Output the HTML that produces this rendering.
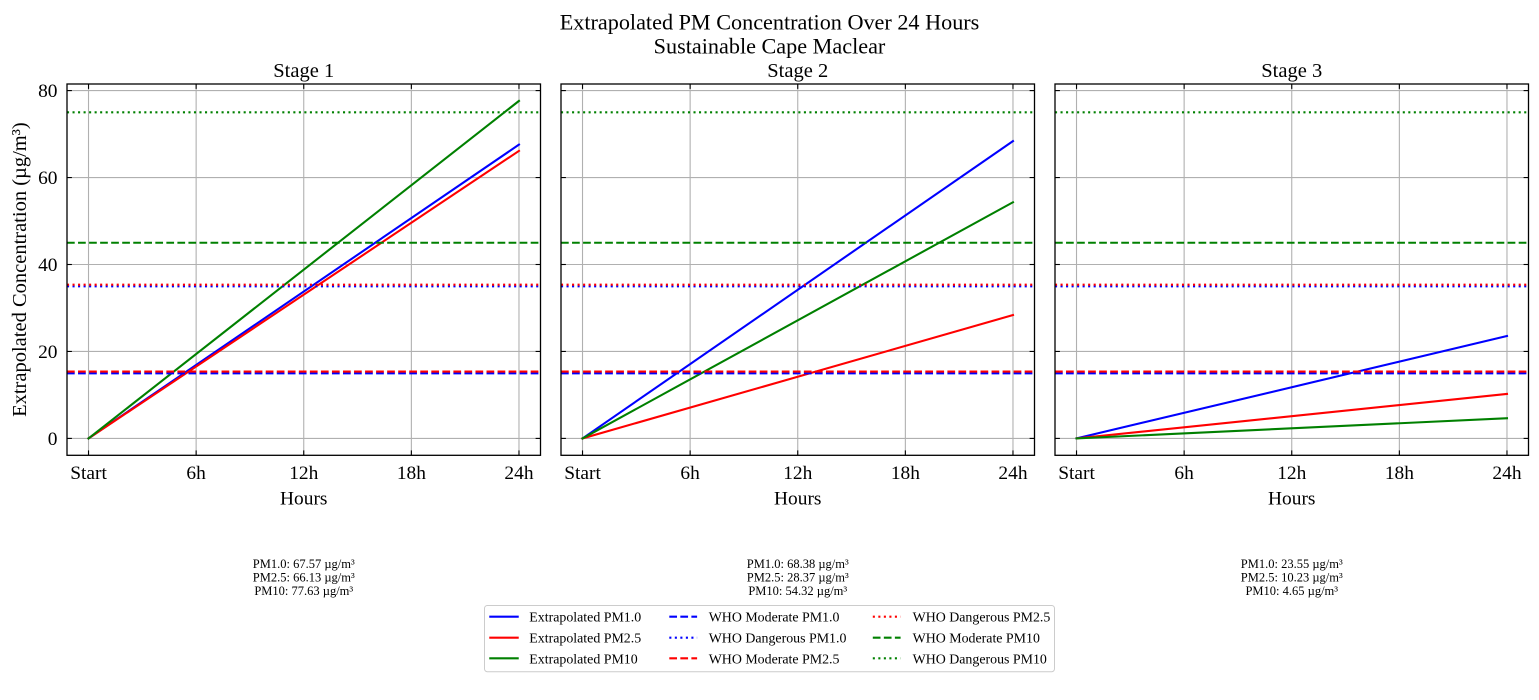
<!DOCTYPE html>
<html><head><meta charset="utf-8">
<style>
html,body{margin:0;padding:0;background:#fff;}
svg{display:block;}
text{font-family:"Liberation Serif","Times New Roman",serif;fill:#000;}
</style></head><body>
<svg width="1539" height="700" viewBox="0 0 1539 700" xmlns="http://www.w3.org/2000/svg">
<rect width="1539" height="700" fill="#fff"/>
<defs>
<clipPath id="c1"><rect x="67" y="84" width="473.5" height="371.3"/></clipPath>
<clipPath id="c2"><rect x="561" y="84" width="473.5" height="371.3"/></clipPath>
<clipPath id="c3"><rect x="1055" y="84" width="473.5" height="371.3"/></clipPath>
</defs>

<!-- Suptitle -->
<text x="769.5" y="29.7" font-size="22.2" text-anchor="middle">Extrapolated PM Concentration Over 24 Hours</text>
<text x="769.5" y="53.3" font-size="22.2" text-anchor="middle">Sustainable Cape Maclear</text>

<!-- ================= AXES 1 ================= -->
<g stroke="#b0b0b0" stroke-width="1.1" fill="none">
<line x1="88.52" y1="84" x2="88.52" y2="455.3"/>
<line x1="196.13" y1="84" x2="196.13" y2="455.3"/>
<line x1="303.75" y1="84" x2="303.75" y2="455.3"/>
<line x1="411.36" y1="84" x2="411.36" y2="455.3"/>
<line x1="518.98" y1="84" x2="518.98" y2="455.3"/>
<line x1="67" y1="438.42" x2="540.5" y2="438.42"/>
<line x1="67" y1="351.46" x2="540.5" y2="351.46"/>
<line x1="67" y1="264.5" x2="540.5" y2="264.5"/>
<line x1="67" y1="177.54" x2="540.5" y2="177.54"/>
<line x1="67" y1="90.58" x2="540.5" y2="90.58"/>
</g>
<g clip-path="url(#c1)" stroke-width="2.08" fill="none">
<line x1="88.52" y1="438.42" x2="518.98" y2="144.63" stroke="#0000ff" stroke-linecap="square"/>
<line x1="88.52" y1="438.42" x2="518.98" y2="150.89" stroke="#ff0000" stroke-linecap="square"/>
<line x1="88.52" y1="438.42" x2="518.98" y2="100.89" stroke="#008000" stroke-linecap="square"/>
<line x1="67" y1="373.3" x2="540.5" y2="373.3" stroke="#0000ff" stroke-dasharray="7.71 3.33"/>
<line x1="67" y1="286.3" x2="540.5" y2="286.3" stroke="#0000ff" stroke-dasharray="2.08 3.44"/>
<line x1="67" y1="371.6" x2="540.5" y2="371.6" stroke="#ff0000" stroke-dasharray="7.71 3.33"/>
<line x1="67" y1="284.7" x2="540.5" y2="284.7" stroke="#ff0000" stroke-dasharray="2.08 3.44"/>
<line x1="67" y1="242.76" x2="540.5" y2="242.76" stroke="#008000" stroke-dasharray="7.71 3.33"/>
<line x1="67" y1="112.32" x2="540.5" y2="112.32" stroke="#008000" stroke-dasharray="2.08 3.44"/>
</g>
<g stroke="#000" stroke-width="1.1">
<line x1="88.52" y1="455.3" x2="88.52" y2="450.4"/><line x1="196.13" y1="455.3" x2="196.13" y2="450.4"/><line x1="303.75" y1="455.3" x2="303.75" y2="450.4"/><line x1="411.36" y1="455.3" x2="411.36" y2="450.4"/><line x1="518.98" y1="455.3" x2="518.98" y2="450.4"/>
<line x1="88.52" y1="84" x2="88.52" y2="88.9"/><line x1="196.13" y1="84" x2="196.13" y2="88.9"/><line x1="303.75" y1="84" x2="303.75" y2="88.9"/><line x1="411.36" y1="84" x2="411.36" y2="88.9"/><line x1="518.98" y1="84" x2="518.98" y2="88.9"/>
<line x1="67" y1="438.42" x2="71.9" y2="438.42"/><line x1="67" y1="351.46" x2="71.9" y2="351.46"/><line x1="67" y1="264.5" x2="71.9" y2="264.5"/><line x1="67" y1="177.54" x2="71.9" y2="177.54"/><line x1="67" y1="90.58" x2="71.9" y2="90.58"/>
<line x1="540.5" y1="438.42" x2="535.6" y2="438.42"/><line x1="540.5" y1="351.46" x2="535.6" y2="351.46"/><line x1="540.5" y1="264.5" x2="535.6" y2="264.5"/><line x1="540.5" y1="177.54" x2="535.6" y2="177.54"/><line x1="540.5" y1="90.58" x2="535.6" y2="90.58"/>
</g>
<rect x="67" y="84" width="473.5" height="371.3" fill="none" stroke="#000" stroke-width="1.3"/>
<text x="303.75" y="77.2" font-size="20.5" text-anchor="middle">Stage 1</text>
<g font-size="19.4" text-anchor="end">
<text x="57.5" y="445">0</text>
<text x="57.5" y="358.1">20</text>
<text x="57.5" y="271.1">40</text>
<text x="57.5" y="184.1">60</text>
<text x="57.5" y="97.2">80</text>
</g>
<g font-size="19.4" text-anchor="middle">
<text x="88.52" y="479">Start</text>
<text x="196.13" y="479">6h</text>
<text x="303.75" y="479">12h</text>
<text x="411.36" y="479">18h</text>
<text x="518.98" y="479">24h</text>
<text x="303.75" y="504.5">Hours</text>
</g>
<text transform="translate(26,269.6) rotate(-90)" font-size="20.5" text-anchor="middle">Extrapolated Concentration (µg/m³)</text>

<!-- ================= AXES 2 ================= -->
<g stroke="#b0b0b0" stroke-width="1.1" fill="none">
<line x1="582.52" y1="84" x2="582.52" y2="455.3"/>
<line x1="690.13" y1="84" x2="690.13" y2="455.3"/>
<line x1="797.75" y1="84" x2="797.75" y2="455.3"/>
<line x1="905.36" y1="84" x2="905.36" y2="455.3"/>
<line x1="1012.98" y1="84" x2="1012.98" y2="455.3"/>
<line x1="561" y1="438.42" x2="1034.5" y2="438.42"/>
<line x1="561" y1="351.46" x2="1034.5" y2="351.46"/>
<line x1="561" y1="264.5" x2="1034.5" y2="264.5"/>
<line x1="561" y1="177.54" x2="1034.5" y2="177.54"/>
<line x1="561" y1="90.58" x2="1034.5" y2="90.58"/>
</g>
<g clip-path="url(#c2)" stroke-width="2.08" fill="none">
<line x1="582.52" y1="438.42" x2="1012.98" y2="141.10" stroke="#0000ff" stroke-linecap="square"/>
<line x1="582.52" y1="438.42" x2="1012.98" y2="315.07" stroke="#ff0000" stroke-linecap="square"/>
<line x1="582.52" y1="438.42" x2="1012.98" y2="202.24" stroke="#008000" stroke-linecap="square"/>
<line x1="561" y1="373.3" x2="1034.5" y2="373.3" stroke="#0000ff" stroke-dasharray="7.71 3.33"/>
<line x1="561" y1="286.3" x2="1034.5" y2="286.3" stroke="#0000ff" stroke-dasharray="2.08 3.44"/>
<line x1="561" y1="371.6" x2="1034.5" y2="371.6" stroke="#ff0000" stroke-dasharray="7.71 3.33"/>
<line x1="561" y1="284.7" x2="1034.5" y2="284.7" stroke="#ff0000" stroke-dasharray="2.08 3.44"/>
<line x1="561" y1="242.76" x2="1034.5" y2="242.76" stroke="#008000" stroke-dasharray="7.71 3.33"/>
<line x1="561" y1="112.32" x2="1034.5" y2="112.32" stroke="#008000" stroke-dasharray="2.08 3.44"/>
</g>
<g stroke="#000" stroke-width="1.1">
<line x1="582.52" y1="455.3" x2="582.52" y2="450.4"/><line x1="690.13" y1="455.3" x2="690.13" y2="450.4"/><line x1="797.75" y1="455.3" x2="797.75" y2="450.4"/><line x1="905.36" y1="455.3" x2="905.36" y2="450.4"/><line x1="1012.98" y1="455.3" x2="1012.98" y2="450.4"/>
<line x1="582.52" y1="84" x2="582.52" y2="88.9"/><line x1="690.13" y1="84" x2="690.13" y2="88.9"/><line x1="797.75" y1="84" x2="797.75" y2="88.9"/><line x1="905.36" y1="84" x2="905.36" y2="88.9"/><line x1="1012.98" y1="84" x2="1012.98" y2="88.9"/>
<line x1="561" y1="438.42" x2="565.9" y2="438.42"/><line x1="561" y1="351.46" x2="565.9" y2="351.46"/><line x1="561" y1="264.5" x2="565.9" y2="264.5"/><line x1="561" y1="177.54" x2="565.9" y2="177.54"/><line x1="561" y1="90.58" x2="565.9" y2="90.58"/>
<line x1="1034.5" y1="438.42" x2="1029.6" y2="438.42"/><line x1="1034.5" y1="351.46" x2="1029.6" y2="351.46"/><line x1="1034.5" y1="264.5" x2="1029.6" y2="264.5"/><line x1="1034.5" y1="177.54" x2="1029.6" y2="177.54"/><line x1="1034.5" y1="90.58" x2="1029.6" y2="90.58"/>
</g>
<rect x="561" y="84" width="473.5" height="371.3" fill="none" stroke="#000" stroke-width="1.3"/>
<text x="797.75" y="77.2" font-size="20.5" text-anchor="middle">Stage 2</text>
<g font-size="19.4" text-anchor="middle">
<text x="582.52" y="479">Start</text>
<text x="690.13" y="479">6h</text>
<text x="797.75" y="479">12h</text>
<text x="905.36" y="479">18h</text>
<text x="1012.98" y="479">24h</text>
<text x="797.75" y="504.5">Hours</text>
</g>

<!-- ================= AXES 3 ================= -->
<g stroke="#b0b0b0" stroke-width="1.1" fill="none">
<line x1="1076.52" y1="84" x2="1076.52" y2="455.3"/>
<line x1="1184.13" y1="84" x2="1184.13" y2="455.3"/>
<line x1="1291.75" y1="84" x2="1291.75" y2="455.3"/>
<line x1="1399.36" y1="84" x2="1399.36" y2="455.3"/>
<line x1="1506.98" y1="84" x2="1506.98" y2="455.3"/>
<line x1="1055" y1="438.42" x2="1528.5" y2="438.42"/>
<line x1="1055" y1="351.46" x2="1528.5" y2="351.46"/>
<line x1="1055" y1="264.5" x2="1528.5" y2="264.5"/>
<line x1="1055" y1="177.54" x2="1528.5" y2="177.54"/>
<line x1="1055" y1="90.58" x2="1528.5" y2="90.58"/>
</g>
<g clip-path="url(#c3)" stroke-width="2.08" fill="none">
<line x1="1076.52" y1="438.42" x2="1506.98" y2="336.02" stroke="#0000ff" stroke-linecap="square"/>
<line x1="1076.52" y1="438.42" x2="1506.98" y2="393.94" stroke="#ff0000" stroke-linecap="square"/>
<line x1="1076.52" y1="438.42" x2="1506.98" y2="418.20" stroke="#008000" stroke-linecap="square"/>
<line x1="1055" y1="373.3" x2="1528.5" y2="373.3" stroke="#0000ff" stroke-dasharray="7.71 3.33"/>
<line x1="1055" y1="286.3" x2="1528.5" y2="286.3" stroke="#0000ff" stroke-dasharray="2.08 3.44"/>
<line x1="1055" y1="371.6" x2="1528.5" y2="371.6" stroke="#ff0000" stroke-dasharray="7.71 3.33"/>
<line x1="1055" y1="284.7" x2="1528.5" y2="284.7" stroke="#ff0000" stroke-dasharray="2.08 3.44"/>
<line x1="1055" y1="242.76" x2="1528.5" y2="242.76" stroke="#008000" stroke-dasharray="7.71 3.33"/>
<line x1="1055" y1="112.32" x2="1528.5" y2="112.32" stroke="#008000" stroke-dasharray="2.08 3.44"/>
</g>
<g stroke="#000" stroke-width="1.1">
<line x1="1076.52" y1="455.3" x2="1076.52" y2="450.4"/><line x1="1184.13" y1="455.3" x2="1184.13" y2="450.4"/><line x1="1291.75" y1="455.3" x2="1291.75" y2="450.4"/><line x1="1399.36" y1="455.3" x2="1399.36" y2="450.4"/><line x1="1506.98" y1="455.3" x2="1506.98" y2="450.4"/>
<line x1="1076.52" y1="84" x2="1076.52" y2="88.9"/><line x1="1184.13" y1="84" x2="1184.13" y2="88.9"/><line x1="1291.75" y1="84" x2="1291.75" y2="88.9"/><line x1="1399.36" y1="84" x2="1399.36" y2="88.9"/><line x1="1506.98" y1="84" x2="1506.98" y2="88.9"/>
<line x1="1055" y1="438.42" x2="1059.9" y2="438.42"/><line x1="1055" y1="351.46" x2="1059.9" y2="351.46"/><line x1="1055" y1="264.5" x2="1059.9" y2="264.5"/><line x1="1055" y1="177.54" x2="1059.9" y2="177.54"/><line x1="1055" y1="90.58" x2="1059.9" y2="90.58"/>
<line x1="1528.5" y1="438.42" x2="1523.6" y2="438.42"/><line x1="1528.5" y1="351.46" x2="1523.6" y2="351.46"/><line x1="1528.5" y1="264.5" x2="1523.6" y2="264.5"/><line x1="1528.5" y1="177.54" x2="1523.6" y2="177.54"/><line x1="1528.5" y1="90.58" x2="1523.6" y2="90.58"/>
</g>
<rect x="1055" y="84" width="473.5" height="371.3" fill="none" stroke="#000" stroke-width="1.3"/>
<text x="1291.75" y="77.2" font-size="20.5" text-anchor="middle">Stage 3</text>
<g font-size="19.4" text-anchor="middle">
<text x="1076.52" y="479">Start</text>
<text x="1184.13" y="479">6h</text>
<text x="1291.75" y="479">12h</text>
<text x="1399.36" y="479">18h</text>
<text x="1506.98" y="479">24h</text>
<text x="1291.75" y="504.5">Hours</text>
</g>

<!-- ================= Annotations ================= -->
<g font-size="12.5" text-anchor="middle">
<text x="303.75" y="567.8">PM1.0: 67.57 µg/m³</text>
<text x="303.75" y="581.4">PM2.5: 66.13 µg/m³</text>
<text x="303.75" y="595">PM10: 77.63 µg/m³</text>
<text x="797.75" y="567.8">PM1.0: 68.38 µg/m³</text>
<text x="797.75" y="581.4">PM2.5: 28.37 µg/m³</text>
<text x="797.75" y="595">PM10: 54.32 µg/m³</text>
<text x="1291.75" y="567.8">PM1.0: 23.55 µg/m³</text>
<text x="1291.75" y="581.4">PM2.5: 10.23 µg/m³</text>
<text x="1291.75" y="595">PM10: 4.65 µg/m³</text>
</g>

<!-- ================= Legend ================= -->
<rect x="484.5" y="605.5" width="570" height="66.2" rx="2.8" ry="2.8" fill="#fff" stroke="#cccccc" stroke-width="1"/>
<g stroke-width="2.08" fill="none">
<line x1="490.3" y1="616.7" x2="517.7" y2="616.7" stroke="#0000ff" stroke-linecap="square"/>
<line x1="490.3" y1="637.7" x2="517.7" y2="637.7" stroke="#ff0000" stroke-linecap="square"/>
<line x1="490.3" y1="658.3" x2="517.7" y2="658.3" stroke="#008000" stroke-linecap="square"/>
<line x1="669.3" y1="616.7" x2="697.1" y2="616.7" stroke="#0000ff" stroke-dasharray="7.71 3.33"/>
<line x1="669.3" y1="637.7" x2="697.1" y2="637.7" stroke="#0000ff" stroke-dasharray="2.08 3.44"/>
<line x1="669.3" y1="658.3" x2="697.1" y2="658.3" stroke="#ff0000" stroke-dasharray="7.71 3.33"/>
<line x1="872.8" y1="616.7" x2="900.6" y2="616.7" stroke="#ff0000" stroke-dasharray="2.08 3.44"/>
<line x1="872.8" y1="637.7" x2="900.6" y2="637.7" stroke="#008000" stroke-dasharray="7.71 3.33"/>
<line x1="872.8" y1="658.3" x2="900.6" y2="658.3" stroke="#008000" stroke-dasharray="2.08 3.44"/>
</g>
<g font-size="13.9">
<text x="529.3" y="621.7">Extrapolated PM1.0</text>
<text x="529.3" y="642.7">Extrapolated PM2.5</text>
<text x="529.3" y="663.3">Extrapolated PM10</text>
<text x="708.7" y="621.7">WHO Moderate PM1.0</text>
<text x="708.7" y="642.7">WHO Dangerous PM1.0</text>
<text x="708.7" y="663.3">WHO Moderate PM2.5</text>
<text x="912.6" y="621.7">WHO Dangerous PM2.5</text>
<text x="912.6" y="642.7">WHO Moderate PM10</text>
<text x="912.6" y="663.3">WHO Dangerous PM10</text>
</g>
</svg>
</body></html>
